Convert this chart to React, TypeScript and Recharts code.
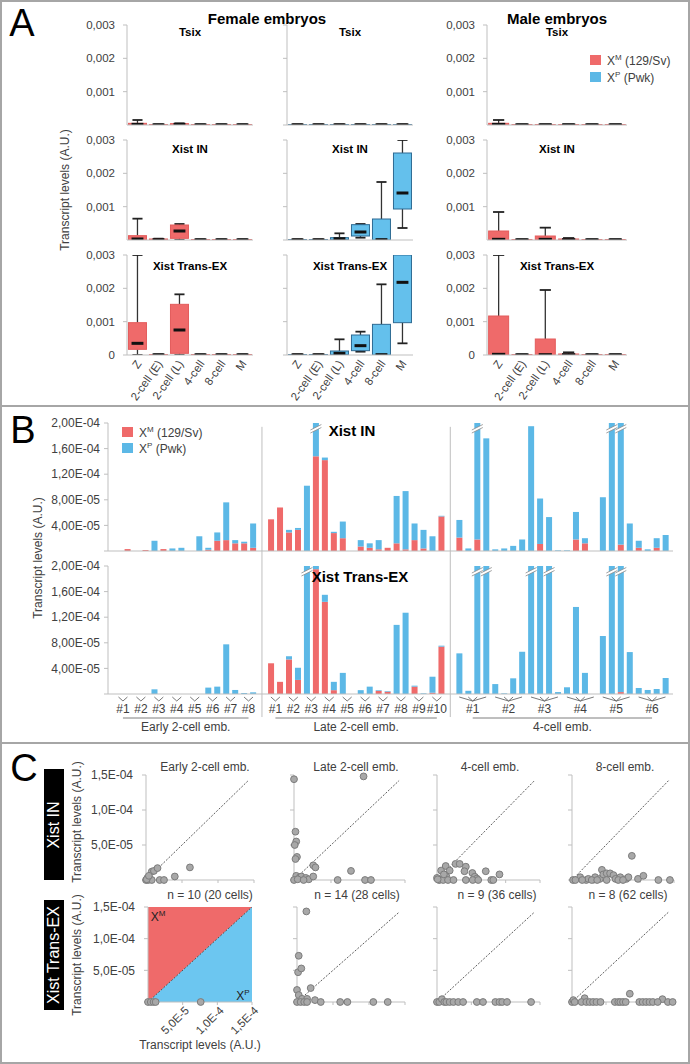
import React from 'react';
import { ComposedChart, Bar, XAxis, YAxis, Scatter, Area, ReferenceLine } from 'recharts';

const FONT = '"Liberation Sans", Arial, Helvetica, sans-serif';
const RED = '#ef6a6a';
const BLUE = '#5cb8e6';
const BOX_BLUE = '#64c0ec';
const C_BLUE = '#6cc6f0';
const AXIS = '#bfbfbf';
const TXT = '#404040';

// ---------- panel A: box plots, values in 1e-3 A.U. as [min, q1, median, q3, max]
const stages = ['Z', '2-cell (E)', '2-cell (L)', '4-cell', '8-cell', 'M'];
const z0 = [0, 0, 0.005, 0.012, 0.02];

const femMTsix = [[0, 0, 0.02, 0.05, 0.15], z0, [0, 0, 0.02, 0.04, 0.05], z0, z0, z0];
const femMIn = [[0, 0, 0.03, 0.13, 0.64], [0, 0, 0.01, 0.03, 0.04], [0, 0.05, 0.27, 0.45, 0.48], z0, z0, z0];
const femMEx = [[0, 0.17, 0.35, 0.97, 3.0], z0, [0, 0.05, 0.75, 1.52, 1.82], z0, z0, z0];
const femPTsix = [z0, z0, z0, z0, z0, z0];
const femPIn = [z0, z0, [0, 0.02, 0.04, 0.07, 0.2], [0.07, 0.12, 0.24, 0.46, 0.48], [0, 0, 0.01, 0.63, 1.74], [0.36, 0.93, 1.41, 2.61, 3.0]];
const femPEx = [z0, z0, [0, 0.01, 0.05, 0.12, 0.47], [0.1, 0.13, 0.28, 0.6, 0.7], [0, 0, 0.01, 0.92, 2.12], [0.35, 0.97, 2.18, 3.0, 3.0]];
const maleMTsix = [[0, 0, 0.02, 0.05, 0.15], z0, z0, z0, z0, z0];
const maleMIn = [[0, 0, 0.02, 0.27, 0.84], z0, [0, 0, 0.02, 0.12, 0.37], [0, 0, 0.01, 0.03, 0.06], z0, z0];
const maleMEx = [[0, 0, 0.02, 1.17, 3.0], z0, [0, 0, 0.01, 0.48, 1.95], [0, 0, 0.01, 0.03, 0.08], z0, z0];

// ---------- panel B: single cells, values in 1e-5 A.U. (M = 129/Sv allele, P = Pwk allele)
const earlyInM = [0, 0.3, 0, 0.15, 0, 0.3, 0, 0, 0, 0, 0.2, 1.6, 1.7, 1.2, 1.2, 0.5];
const earlyInP = [0, 0, 0, 0, 1.6, 0, 0.4, 0.5, 0, 2.3, 0.3, 1.3, 5.9, 0.5, 0.25, 3.8];
const lateInM = [4.95, 6.8, 2.9, 3.3, 0, 14.8, 14.2, 2.8, 2.0, 0, 0.7, 0.5, 0.26, 0.5, 1.2, 0.26, 1.7, 0.4, 0, 5.4];
const lateInP = [0, 0, 0.4, 0.3, 10.2, 9, 0.4, 0.2, 2.6, 0, 1.0, 0.7, 1.44, 0, 7.4, 9.1, 2.6, 2.9, 2.3, 0.1];
const fourInM = [2.1, 0, 1.8, 0, 0, 0, 0, 0, 0, 1.1, 0, 0, 0, 1.8, 1.2, 0, 0, 0, 1.0, 0, 0.5, 0, 0.5, 0];
const fourInP = [2.75, 0.4, 30, 17.6, 0.26, 0.4, 0.8, 1.8, 19.5, 7.1, 5.3, 0.1, 0.1, 4.3, 0.8, 0, 8.4, 30, 30, 4.3, 1.1, 0.26, 1.5, 2.5];

const earlyExM = [0, 0, 0, 0, 0, 0, 0, 0, 0, 0, 0, 0, 0, 0, 0, 0];
const earlyExP = [0, 0, 0, 0, 0.73, 0, 0, 0, 0, 0, 1.0, 1.15, 7.76, 0.63, 0.15, 0.26];
const lateExM = [4.8, 1.9, 5.4, 2.2, 0, 19.5, 14.4, 0.6, 0, 0, 0, 0, 0.5, 0.35, 0, 0, 1.15, 0, 0.2, 7.4];
const lateExP = [0, 0, 0.5, 1.9, 30, 0.5, 1.1, 1.3, 3.3, 0, 0.6, 1.15, 0.1, 0.1, 10.8, 12.7, 0.15, 0.1, 2.5, 0.15];
const fourExM = [0, 0, 0, 0, 0, 0, 0, 0, 0, 0, 0, 0, 0, 0, 0, 0, 0, 0, 0.3, 0, 0, 0, 0, 0];
const fourExP = [6.35, 0.5, 30, 30, 1.55, 0.1, 2.45, 6.6, 30, 20, 30, 0.3, 1.05, 13.6, 3.3, 0, 9.06, 30, 30, 6.55, 0.94, 0.63, 0.78, 2.5];

const B_MAX = 20;
const bTicks = [0, 4, 8, 12, 16, 20];

// ---------- panel C: allelic scatter, [Xp, Xm] in 1e-5 A.U.
const earlyIn = [[0, 0], [0.2, 0.3], [0.3, 0], [0.5, 0.2], [0.8, 1.2], [1.1, 1.3], [1.6, 1.7], [0.8, 0], [1.9, 0], [2.5, 0], [4.0, 0.5], [6.1, 1.8], [0.1, 0.1], [0.4, 0.6]];
const lateIn = [[0, 14.4], [0.2, 6.9], [0.3, 5.5], [0.1, 5.0], [0.4, 3.3], [0.2, 3.0], [2.6, 2.1], [2.9, 1.8], [0.3, 0.6], [0.8, 0.4], [1.0, 0.5], [1.6, 0.3], [2.0, 0.1], [2.6, 0.5], [5.9, 0], [9.4, 14.8], [7.7, 1.3], [9.6, 0], [10.4, 0], [0, 0], [0.5, 0.1], [1.3, 0]];
const fourIn = [[0, 0.3], [0.4, 0.05], [0.6, 1.35], [1.27, 2.0], [1.37, 0.47], [1.85, 1.35], [2.7, 2.3], [3.3, 2.3], [4.2, 1.9], [4.0, 1.25], [5.15, 1.0], [5.5, 0.47], [5.8, 0.2], [7.1, 1.25], [9.1, 0.8], [0.3, 0], [0.9, 0], [1.6, 0], [2.4, 0], [4.2, 0], [5.2, 0], [6.0, 0], [7.9, 0], [8.2, 0], [0.1, 0.1], [1.0, 0.8]];
const eightIn = [[0.15, 0], [1.2, 0.4], [2.1, 0], [2.4, 0.16], [3.2, 0.05], [3.4, 0.4], [4.1, 0.16], [4.4, 1.45], [4.6, 0.8], [5.1, 0.95], [5.6, 0.95], [6.1, 0.7], [6.4, 0.16], [7.1, 0.4], [8.0, 0.16], [8.3, 0.4], [8.8, 3.45], [9.7, 0.16], [10.5, 0.6], [12.7, 0], [14.4, 0], [0.5, 0], [1.5, 0], [2.9, 0], [3.7, 0], [5.1, 0], [6.8, 0], [7.5, 0]];
const earlyEx = [[0, 0], [0.4, 0], [0.8, 0], [1.1, 0], [7.6, 0]];
const lateEx = [[1.3, 14.3], [0.24, 7.3], [0.15, 4.7], [0.6, 5.3], [0, 1.9], [1.9, 2.2], [0.24, 1.1], [0.7, 0.5], [1.4, 0.5], [0, 0], [0.5, 0], [1.0, 0], [1.4, 0], [2.5, 0.3], [3.3, 0], [6.0, 0], [7.0, 0], [10.6, 0], [12.6, 0]];
const fourEx = [[0, 0], [0.33, 0], [0.72, 0.45], [1.06, 0], [1.35, 0], [1.84, 0], [2.4, 0], [3.1, 0], [3.8, 0], [5.8, 0], [6.7, 0], [8.5, 0], [9.1, 0], [9.5, 0], [10.2, 0], [13.7, 0]];
const eightEx = [[0, 0], [0.2, 0.3], [1.86, 0.6], [8.5, 1.3], [13.3, 0.45], [0.4, 0], [1.4, 0], [2.1, 0], [2.6, 0], [3.1, 0], [3.6, 0], [4.2, 0], [6.3, 0], [6.8, 0], [7.1, 0], [7.5, 0], [7.9, 0], [9.9, 0], [10.4, 0], [10.9, 0], [11.4, 0], [11.9, 0], [12.6, 0], [14.1, 0], [14.8, 0]];
const cTicks = [0, 5, 10, 15];

// ---------- formatters
const expParts = (v: number, d: number) => {
  const [m, e] = v.toExponential(d).split('e');
  return { m: m.replace('.', ','), e: parseInt(e, 10) };
};
const fmtA = (v: number) => (v === 0 ? '0' : (v / 1000).toFixed(3).replace('.', ','));
const fmtB = (v: number) => {
  if (v === 0) return '';
  const { m, e } = expParts(v * 1e-5, 2);
  return `${m}E-${String(Math.abs(e)).padStart(2, '0')}`;
};
const fmtCy = (v: number) => {
  if (v === 0) return '';
  const { m, e } = expParts(v * 1e-5, 1);
  return `${m}E-${String(Math.abs(e)).padStart(2, '0')}`;
};
const fmtCx = (v: number) => {
  if (v === 0) return '';
  const { m, e } = expParts(v * 1e-5, 1);
  return `${m}E-${Math.abs(e)}`;
};

// ---------- small text helpers
const T = ({ x, y, size = 12, bold = false, color = TXT, left = false, children }: any) => (
  <div style={{ position: 'absolute', left: x, top: y, transform: left ? 'translate(0,-50%)' : 'translate(-50%,-50%)', fontSize: size, fontWeight: bold ? 700 : 400, color, lineHeight: 1, whiteSpace: 'nowrap' }}>{children}</div>
);
const VT = ({ x, y, size = 12, color = TXT, children }: any) => (
  <div style={{ position: 'absolute', left: x, top: y, transform: 'translate(-50%,-50%) rotate(-90deg)', fontSize: size, color, lineHeight: 1, whiteSpace: 'nowrap' }}>{children}</div>
);
const Sq = ({ x, y, w = 11, h = 10, c }: any) => <div style={{ position: 'absolute', left: x, top: y, width: w, height: h, background: c }} />;
const Legend = ({ x, y, gap }: any) => (
  <>
    <Sq x={x} y={y} c={RED} />
    <T x={x + 17} y={y + 5} left>X<sup style={{ fontSize: 8 }}>M</sup> (129/Sv)</T>
    <Sq x={x} y={y + gap} c={BLUE} />
    <T x={x + 17} y={y + gap + 5} left>X<sup style={{ fontSize: 8 }}>P</sup> (Pwk)</T>
  </>
);

// ---------- panel A cell
const boxShape = (fill: string, stroke: string) => (p: any) => {
  const { x, y, width, height, payload } = p;
  const [mn, q1, md, q3, mx] = payload.s;
  const k = height / (mx - mn);
  const Y = (v: number) => y + (mx - v) * k;
  const cx = x + width / 2;
  const top = Y(q3);
  const bot = Y(q1);
  const cap = width * 0.28;
  return (
    <g>
      {mx > q3 && <line x1={cx} x2={cx} y1={Y(mx)} y2={top} stroke="#333" strokeWidth={1.3} />}
      {mx > q3 && <line x1={cx - cap} x2={cx + cap} y1={Y(mx)} y2={Y(mx)} stroke="#222" strokeWidth={1.8} />}
      {mn < q1 && <line x1={cx} x2={cx} y1={bot} y2={Y(mn)} stroke="#333" strokeWidth={1.3} />}
      {mn < q1 && <line x1={cx - cap} x2={cx + cap} y1={Y(mn)} y2={Y(mn)} stroke="#222" strokeWidth={1.8} />}
      <rect x={x} y={top} width={width} height={Math.max(bot - top, 2)} fill={fill} stroke={stroke} strokeWidth={1} />
      <rect x={cx - width * 0.33} y={Y(md) - 1.5} width={width * 0.66} height={3} fill="#111" />
    </g>
  );
};

const StageTick = (p: any) => (
  <text transform={`translate(${p.x + 2},${p.y + 7}) rotate(-55)`} textAnchor="end" dominantBaseline="middle" fontSize={11.5} fill={TXT}>{p.payload.value}</text>
);

const BoxCell = ({ px, py, pw, rows, fill, stroke, yLabels, xLabels }: any) => {
  const yw = 50, mt = 8, mr = 6, ph = 100, xh = xLabels ? 55 : 2;
  const data = stages.map((s, i) => ({ stage: s, s: rows[i] }));
  return (
    <div style={{ position: 'absolute', left: px - yw, top: py - mt }}>
      <ComposedChart width={yw + pw + mr} height={mt + ph + xh} data={data} margin={{ top: mt, right: mr, bottom: 0, left: 0 }} barCategoryGap="7%">
        <XAxis dataKey="stage" interval={0} height={xh} tickLine={false} tickSize={0} tickMargin={0} axisLine={{ stroke: AXIS }} tick={xLabels ? StageTick : false} />
        <YAxis width={yw} domain={[0, 3]} ticks={[0, 1, 2, 3]} allowDataOverflow tickSize={4} tickMargin={8} axisLine={{ stroke: AXIS }} tickLine={{ stroke: AXIS }} tick={{ fontSize: 11.5, fill: TXT }} tickFormatter={yLabels ? fmtA : () => ''} />
        <Bar dataKey={(d: any) => [d.s[0], d.s[4]]} shape={boxShape(fill, stroke)} isAnimationActive={false} />
      </ComposedChart>
    </div>
  );
};

// ---------- panel B rows
type BRow = { key: string; M: number; P: number; emb?: string; span?: number; grp?: string; grpCells?: number; spacer?: boolean };
const buildRows = (groups: [number[], number[], number, string][]) => {
  const rows: BRow[] = [];
  groups.forEach(([M, P, per, name], g) => {
    if (g > 0) rows.push({ key: 'sep' + g, M: 0, P: 0, spacer: true });
    M.forEach((m, i) => {
      rows.push({ key: `g${g}c${i}`, M: m, P: P[i], emb: i % per === 0 ? '#' + (i / per + 1) : undefined, span: per, grp: i === 0 ? name : undefined, grpCells: M.length });
    });
  });
  return rows;
};
const rowsIn = buildRows([[earlyInM, earlyInP, 2, 'Early 2-cell emb.'], [lateInM, lateInP, 2, 'Late 2-cell emb.'], [fourInM, fourInP, 4, '4-cell emb.']]);
const rowsEx = buildRows([[earlyExM, earlyExP, 2, 'Early 2-cell emb.'], [lateExM, lateExP, 2, 'Late 2-cell emb.'], [fourExM, fourExP, 4, '4-cell emb.']]);

// bars above the axis maximum are cut by the chart at the plot top; mark them with a break
const pShape = (p: any) => {
  const { x, y, width, height, payload } = p;
  if (!payload || !(payload.P > 0) || !(height > 0)) return <g />;
  const over = payload.M + payload.P > B_MAX;
  const x0 = x - 2.5, x1 = x + width + 2.5;
  return (
    <g>
      <rect x={x} y={y} width={width} height={height} fill={BLUE} />
      {over && (
        <g>
          <polygon points={`${x0},${y + 7} ${x1},${y + 1.5} ${x1},${y + 4.5} ${x0},${y + 10}`} fill="#fff" />
          <line x1={x0} y1={y + 7} x2={x1} y2={y + 1.5} stroke="#8a8a8a" strokeWidth={0.8} />
          <line x1={x0} y1={y + 10} x2={x1} y2={y + 4.5} stroke="#8a8a8a" strokeWidth={0.8} />
        </g>
      )}
    </g>
  );
};

const embryoTick = (rows: BRow[]) => (p: any) => {
  const { x, y, payload } = p;
  const r = rows.find((q) => q.key === payload.value);
  if (!r || r.spacer) return <g />;
  const half = payload.offset || 4.5;
  const span = r.span || 1;
  const out: any[] = [];
  if (r.emb) {
    const c = x + (span - 1) * half;
    for (let i = 0; i < span; i++) out.push(<line key={'c' + i} x1={x + 2 * half * i} y1={y + 3} x2={c} y2={y + 7} stroke="#555" strokeWidth={0.8} />);
    out.push(<text key="t" x={c} y={y + 19} textAnchor="middle" fontSize={12} fill={TXT}>{r.emb}</text>);
  }
  if (r.grp) {
    const c1 = x + (span - 1) * half;
    const cN = x + 2 * half * ((r.grpCells || 0) - span) + (span - 1) * half;
    out.push(<line key="u" x1={c1} y1={y + 24} x2={cN} y2={y + 24} stroke="#7f7f7f" strokeWidth={1} />);
    out.push(<text key="g" x={(c1 + cN) / 2} y={y + 37} textAnchor="middle" fontSize={12} fill={TXT}>{r.grp}</text>);
  }
  return <g>{out}</g>;
};

const BarRow = ({ py, rows, labels }: any) => {
  const px = 108, pw = 565, ph = 128, yw = 70, mr = 6;
  const mt = labels ? 18 : 8;
  const xh = labels ? 45 : 2;
  const lo = labels ? -3.6 : 0;
  const hi = labels ? 22.4 : 19.4;
  return (
    <div style={{ position: 'absolute', left: px - yw, top: py - mt }}>
      <ComposedChart width={yw + pw + mr} height={mt + ph + xh} data={rows} margin={{ top: mt, right: mr, bottom: 0, left: 0 }} barCategoryGap="18%">
        <XAxis dataKey="key" interval={0} height={xh} padding={{ left: 6, right: 3 }} tickLine={false} tickSize={0} tickMargin={0} axisLine={{ stroke: AXIS }} tick={labels ? embryoTick(rows) : false} />
        <YAxis width={yw} domain={[0, B_MAX]} ticks={bTicks} allowDataOverflow tickSize={4} tickMargin={4} axisLine={{ stroke: AXIS }} tickLine={{ stroke: AXIS }} tick={{ fontSize: 12, fill: TXT }} tickFormatter={fmtB} />
        <Bar dataKey="M" stackId="s" fill={RED} isAnimationActive={false} />
        <Bar dataKey="P" stackId="s" fill={BLUE} shape={pShape} isAnimationActive={false} />
        {['sep1', 'sep2'].map((s) => (
          <ReferenceLine key={s} segment={[{ x: s, y: lo }, { x: s, y: hi }]} stroke={AXIS} strokeWidth={1} ifOverflow="visible" />
        ))}
      </ComposedChart>
    </div>
  );
};

// ---------- panel C cell
const dot = (p: any) => <circle cx={p.cx} cy={p.cy} r={3.4} fill="#a8a8a8" stroke="#7c7c7c" strokeWidth={1} />;
const RotTick = (p: any) => {
  const v = p.payload.value;
  if (v === 0) return <g />;
  return <text transform={`translate(${p.x + 5},${p.y + 4}) rotate(-45)`} textAnchor="end" dominantBaseline="middle" fontSize={11.5} fill={TXT}>{fmtCx(v)}</text>;
};
const triData = [
  { x: 0, red: [0, 15], blue: [0, 0] },
  { x: 15, red: [15, 15], blue: [0, 15] },
];

const ScatterCell = ({ px, py, pw, ph, pts, yLabels, xLabels, tri, lineEnd }: any) => {
  const yw = yLabels ? 62 : 12, mt = 8, mr = 8;
  const xh = xLabels ? 42 : 8;
  return (
    <div style={{ position: 'absolute', left: px - yw, top: py - mt }}>
      <ComposedChart width={yw + pw + mr} height={mt + ph + xh} data={tri ? triData : []} margin={{ top: mt, right: mr, bottom: 0, left: 0 }}>
        <XAxis type="number" dataKey="x" domain={[0, 15]} ticks={cTicks} height={xh} tickSize={3} tickMargin={0} axisLine={{ stroke: AXIS }} tickLine={{ stroke: AXIS }} tick={xLabels ? RotTick : { fontSize: 1 }} tickFormatter={xLabels ? undefined : () => ''} />
        <YAxis type="number" dataKey="y" width={yw} domain={[0, 15]} ticks={cTicks} tickSize={4} tickMargin={9} axisLine={{ stroke: AXIS }} tickLine={{ stroke: AXIS }} tick={{ fontSize: 12, fill: TXT }} tickFormatter={yLabels ? fmtCy : () => ''} />
        {tri && <Area type="linear" dataKey="red" fill={RED} fillOpacity={1} stroke="none" isAnimationActive={false} />}
        {tri && <Area type="linear" dataKey="blue" fill={C_BLUE} fillOpacity={1} stroke="none" isAnimationActive={false} />}
        <ReferenceLine segment={[{ x: 0, y: 0 }, { x: lineEnd, y: lineEnd }]} stroke="#333" strokeWidth={0.8} strokeDasharray="2 1.5" />
        <Scatter data={pts.map(([x, y]: number[]) => ({ x, y }))} shape={dot} isAnimationActive={false} />
      </ComposedChart>
    </div>
  );
};

const BlackTag = ({ x, y, w, h, children }: any) => (
  <div style={{ position: 'absolute', left: x, top: y, width: w, height: h, background: '#000' }}>
    <VT x={w / 2} y={h / 2} size={16} color="#fff">{children}</VT>
  </div>
);

const colsRow1 = [[146, 108], [294, 111], [437, 103], [572, 102]];
const colsRow2 = [[148, 104], [297, 108], [437, 103], [572, 102]];

export default function App() {
  return (
    <div style={{ position: 'absolute', left: 0, top: 0, width: 690, height: 1064, background: '#fff', fontFamily: FONT, overflow: 'hidden' }}>
      {/* frame */}
      <div style={{ position: 'absolute', left: 0, top: 0, width: 690, height: 1064, boxSizing: 'border-box', border: '2px solid #a6a6a6' }} />
      <div style={{ position: 'absolute', left: 0, top: 405, width: 690, height: 2, background: '#a6a6a6' }} />
      <div style={{ position: 'absolute', left: 0, top: 742, width: 690, height: 2, background: '#a6a6a6' }} />

      {/* ---------- A ---------- */}
      <T x={22} y={23} size={38} color="#000">A</T>
      <T x={267} y={18} size={15} bold color="#000">Female embryos</T>
      <T x={557} y={18} size={15} bold color="#000">Male embryos</T>
      <VT x={65} y={190} size={12}>Transcript levels (A.U.)</VT>
      <Legend x={590} y={55} gap={17} />

      <BoxCell px={127} py={25} pw={126} rows={femMTsix} fill={RED} stroke="#e35c5c" yLabels />
      <BoxCell px={127} py={140} pw={126} rows={femMIn} fill={RED} stroke="#e35c5c" yLabels />
      <BoxCell px={127} py={255} pw={126} rows={femMEx} fill={RED} stroke="#e35c5c" yLabels xLabels />
      <BoxCell px={287} py={25} pw={126} rows={femPTsix} fill={BOX_BLUE} stroke="#2e6a93" />
      <BoxCell px={287} py={140} pw={126} rows={femPIn} fill={BOX_BLUE} stroke="#2e6a93" />
      <BoxCell px={287} py={255} pw={126} rows={femPEx} fill={BOX_BLUE} stroke="#2e6a93" xLabels />
      <BoxCell px={487} py={25} pw={140} rows={maleMTsix} fill={RED} stroke="#e35c5c" yLabels />
      <BoxCell px={487} py={140} pw={140} rows={maleMIn} fill={RED} stroke="#e35c5c" yLabels />
      <BoxCell px={487} py={255} pw={140} rows={maleMEx} fill={RED} stroke="#e35c5c" yLabels xLabels />

      {[['Tsix', 33], ['Xist IN', 150], ['Xist Trans-EX', 267]].map(([t, y]) => (
        <React.Fragment key={t as string}>
          <T x={190} y={y} size={11.5} bold color="#000">{t}</T>
          <T x={350} y={y} size={11.5} bold color="#000">{t}</T>
          <T x={557} y={y} size={11.5} bold color="#000">{t}</T>
        </React.Fragment>
      ))}

      {/* ---------- B ---------- */}
      <T x={23} y={430} size={38} color="#000">B</T>
      <VT x={38} y={558} size={12}>Transcript levels (A.U.)</VT>
      <BarRow py={423} rows={rowsIn} />
      <BarRow py={566} rows={rowsEx} labels />
      <Legend x={122} y={427} gap={16} />
      <T x={352} y={430} size={15} bold color="#000">Xist IN</T>
      <T x={360} y={576} size={15} bold color="#000">Xist Trans-EX</T>

      {/* ---------- C ---------- */}
      <T x={24} y={768} size={38} color="#000">C</T>
      <BlackTag x={44} y={769} w={20} h={111}>Xist IN</BlackTag>
      <BlackTag x={44} y={900} w={20} h={110}>Xist Trans-EX</BlackTag>
      <VT x={77} y={822} size={12}>Transcript levels (A.U.)</VT>
      <VT x={77} y={955} size={12}>Transcript levels (A.U.)</VT>

      <ScatterCell px={colsRow1[0][0]} py={775} pw={colsRow1[0][1]} ph={105} pts={earlyIn} yLabels lineEnd={14.2} />
      <ScatterCell px={colsRow1[1][0]} py={775} pw={colsRow1[1][1]} ph={105} pts={lateIn} lineEnd={14.2} />
      <ScatterCell px={colsRow1[2][0]} py={775} pw={colsRow1[2][1]} ph={105} pts={fourIn} lineEnd={14.2} />
      <ScatterCell px={colsRow1[3][0]} py={775} pw={colsRow1[3][1]} ph={105} pts={eightIn} lineEnd={14.2} />
      <ScatterCell px={colsRow2[0][0]} py={907} pw={colsRow2[0][1]} ph={95} pts={earlyEx} yLabels xLabels tri lineEnd={15} />
      <ScatterCell px={colsRow2[1][0]} py={907} pw={colsRow2[1][1]} ph={95} pts={lateEx} lineEnd={14.2} />
      <ScatterCell px={colsRow2[2][0]} py={907} pw={colsRow2[2][1]} ph={95} pts={fourEx} lineEnd={14.2} />
      <ScatterCell px={colsRow2[3][0]} py={907} pw={colsRow2[3][1]} ph={95} pts={eightEx} lineEnd={14.2} />

      <T x={205} y={767}>Early 2-cell emb.</T>
      <T x={356} y={767}>Late 2-cell emb.</T>
      <T x={490} y={767}>4-cell emb.</T>
      <T x={625} y={767}>8-cell emb.</T>
      <T x={210} y={895}>n = 10 (20 cells)</T>
      <T x={357} y={895}>n = 14 (28 cells)</T>
      <T x={497} y={895}>n = 9 (36 cells)</T>
      <T x={628} y={895}>n = 8 (62 cells)</T>
      <T x={158} y={916} color="#222">X<sup style={{ fontSize: 8 }}>M</sup></T>
      <T x={243} y={995} color="#222">X<sup style={{ fontSize: 8 }}>P</sup></T>
      <T x={200} y={1045}>Transcript levels (A.U.)</T>
    </div>
  );
}
